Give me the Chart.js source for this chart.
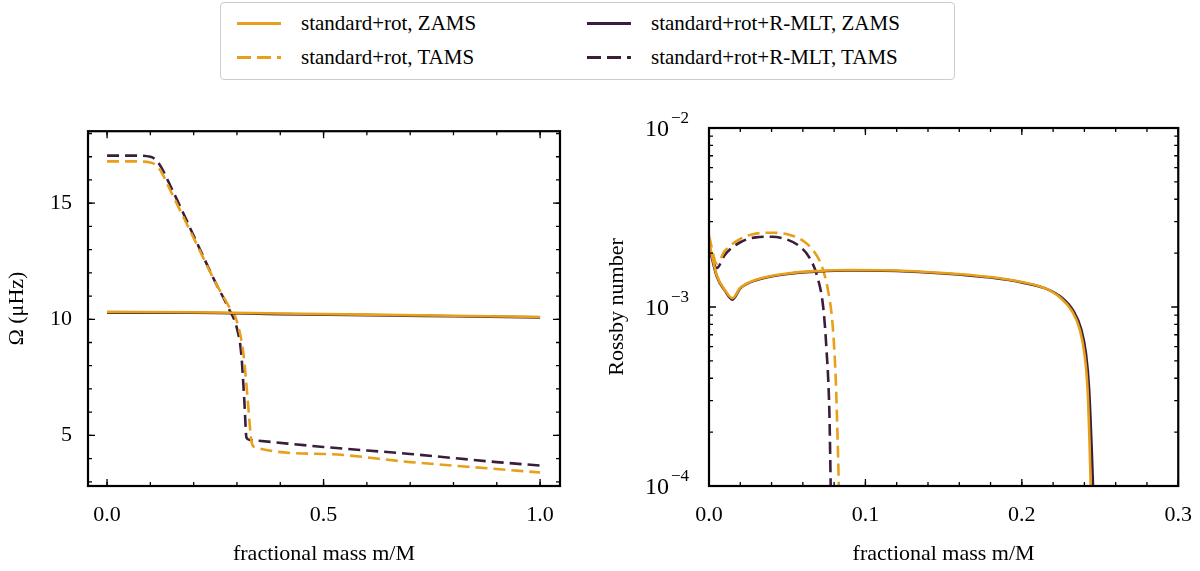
<!DOCTYPE html><html><head><meta charset="utf-8">
<script src="https://cdn.jsdelivr.net/npm/chart.js@4"></script>
<style>
body{margin:0;width:1200px;height:571px;position:relative;background:#fff;font-family:"Liberation Serif",serif;overflow:hidden}
canvas{position:absolute}
#leg{position:absolute;left:220px;top:2px;width:733px;height:76px;border:1px solid #ccc;border-radius:4px;font-size:21px;color:#000}
.it{position:absolute;display:flex;align-items:center}
.ln{width:44px;height:0;border-top:3px solid;margin-right:20px}
.dash{border-top:none;height:3px;background:repeating-linear-gradient(90deg,var(--c) 0 14px,transparent 14px 20px)}
</style></head><body>
<div id="leg">
<div class="it" style="left:16px;top:8px"><div class="ln" style="border-color:#e8a01a"></div>standard+rot, ZAMS</div>
<div class="it" style="left:16px;top:42px"><div class="ln dash" style="--c:#e8a01a"></div>standard+rot, TAMS</div>
<div class="it" style="left:366px;top:8px"><div class="ln" style="border-color:#3b1d3c"></div>standard+rot+R-MLT, ZAMS</div>
<div class="it" style="left:366px;top:42px"><div class="ln dash" style="--c:#3b1d3c"></div>standard+rot+R-MLT, TAMS</div>
</div>
<div style="position:absolute;left:0;top:110px;width:580px;height:461px"><canvas id="c1"></canvas></div>
<div style="position:absolute;left:600px;top:110px;width:600px;height:461px"><canvas id="c2"></canvas></div>
<script>
const ORANGE='#e8a01a', DARK='#3b1d3c';
const omZamsStd=[[0,10.32],[0.2,10.3],[0.4,10.25],[0.6,10.2],[0.8,10.15],[1.0,10.1]];
const omZamsMlt=[[0,10.28],[0.2,10.28],[0.4,10.22],[0.6,10.18],[0.8,10.13],[1.0,10.08]];
const omTamsStd=[[0,16.8],[0.06,16.8],[0.1,16.75],[0.12,16.5],[0.15,15.4],[0.2,13.5],[0.25,11.6],[0.28,10.6],[0.3,9.9],[0.315,8.5],[0.325,6.5],[0.333,4.8],[0.34,4.5],[0.5,4.2],[0.7,3.85],[0.9,3.55],[1.0,3.4]];
const omTamsMlt=[[0,17.05],[0.06,17.05],[0.1,17.0],[0.12,16.7],[0.15,15.6],[0.2,13.6],[0.25,11.6],[0.28,10.5],[0.3,9.6],[0.31,8.5],[0.317,6.5],[0.322,4.9],[0.33,4.8],[0.5,4.5],[0.7,4.2],[0.9,3.85],[1.0,3.7]];
const roZamsStd=[[0,2.3e-3],[0.005,1.5e-3],[0.01,1.25e-3],[0.015,1.12e-3],[0.02,1.28e-3],[0.03,1.42e-3],[0.05,1.54e-3],[0.07,1.59e-3],[0.09,1.61e-3],[0.12,1.6e-3],[0.15,1.55e-3],[0.18,1.47e-3],[0.2,1.38e-3],[0.215,1.27e-3],[0.225,1.12e-3],[0.232,9.5e-4],[0.237,7.5e-4],[0.24,5.5e-4],[0.242,3.5e-4],[0.2435,1.5e-4],[0.244,1e-4]];
const roZamsMlt=[[0,2.2e-3],[0.005,1.48e-3],[0.01,1.24e-3],[0.015,1.1e-3],[0.02,1.27e-3],[0.03,1.41e-3],[0.05,1.53e-3],[0.07,1.58e-3],[0.09,1.6e-3],[0.12,1.59e-3],[0.15,1.54e-3],[0.18,1.46e-3],[0.2,1.37e-3],[0.215,1.27e-3],[0.226,1.12e-3],[0.233,9.5e-4],[0.238,7.5e-4],[0.241,5.5e-4],[0.243,3.5e-4],[0.2448,1.5e-4],[0.2455,1e-4]];
const roTamsStd=[[0,2.5e-3],[0.005,1.75e-3],[0.01,2.05e-3],[0.02,2.4e-3],[0.03,2.57e-3],[0.04,2.6e-3],[0.05,2.55e-3],[0.06,2.35e-3],[0.067,2.05e-3],[0.072,1.7e-3],[0.076,1.25e-3],[0.079,8e-4],[0.081,4e-4],[0.0825,1.5e-4],[0.083,1e-4]];
const roTamsMlt=[[0,2.2e-3],[0.005,1.65e-3],[0.01,1.95e-3],[0.02,2.3e-3],[0.03,2.45e-3],[0.04,2.47e-3],[0.05,2.38e-3],[0.058,2.18e-3],[0.064,1.9e-3],[0.069,1.5e-3],[0.073,1.0e-3],[0.075,6e-4],[0.077,2.5e-4],[0.0778,1e-4]];
const xTicksL=[0,0.5,1.0], yTicksL=[5,10,15], xTicksR=[0,0.1,0.2,0.3];
const F={family:'"Liberation Serif",serif',size:22};
const pts=a=>a.map(p=>({x:p[0],y:p[1]}));
const ds=(d,c,dash)=>({data:pts(d),borderColor:c,borderWidth:2.6,borderDash:dash?[12,6]:[],pointRadius:0,tension:0.3,cubicInterpolationMode:'monotone',fill:false});
const common={responsive:true,maintainAspectRatio:false,animation:false,plugins:{legend:{display:false},tooltip:{enabled:false}}};
const border={display:false};
const frame={id:'frame',afterDraw(c){const a=c.chartArea,x=c.ctx;x.save();x.strokeStyle='#000';x.lineWidth=2.2;x.strokeRect(a.left,a.top,a.right-a.left,a.bottom-a.top);
 // inward ticks
 x.lineWidth=1.3;
 for(const id of ['x','y']){const s=c.scales[id];
  const maj=s.ticks.map(t=>t.value);
  let minor=[];
  if(s.type==='logarithmic'){for(let e=-4;e<-2;e++)for(let k=2;k<10;k++)minor.push(k*Math.pow(10,e));}
  else{const st=(maj[1]-maj[0])/5;for(let v=maj[0]-5*st;v<=maj[maj.length-1]+5*st+1e-9;v+=st)minor.push(v);}
  const draw=(vals,len)=>vals.forEach(v=>{if(v<s.min-1e-12||v>s.max+1e-12)return;const p=s.getPixelForValue(v);x.beginPath();
   if(id==='x'){x.moveTo(p,a.bottom);x.lineTo(p,a.bottom-len);x.moveTo(p,a.top);x.lineTo(p,a.top+len);}
   else{x.moveTo(a.left,p);x.lineTo(a.left+len,p);x.moveTo(a.right,p);x.lineTo(a.right-len,p);}x.stroke();});
  draw(minor,4);draw(maj,7);}
 if(c.scales.y.type==='logarithmic'){const s=c.scales.y;x.fillStyle='#000';x.textBaseline='middle';
  [-4,-3,-2].forEach(e=>{const p=s.getPixelForValue(Math.pow(10,e));x.font='24px "Liberation Serif",serif';x.textAlign='left';
   x.fillText('10',a.left-64,p+2);x.font='17px "Liberation Serif",serif';x.fillText('−'+(-e),a.left-38,p-9);});}
 x.restore();}};
const xs=(min,max,ticks)=>({type:'linear',min,max,border,grid:{display:false},
 afterBuildTicks:s=>{s.ticks=ticks.map(v=>({value:v}))},afterFit:s=>{s.height=85},
 ticks:{color:'#000',font:F,padding:8,callback:v=>v.toFixed(1),maxRotation:0},title:{display:true,text:'fractional mass m/M',font:F,color:'#000',padding:{top:6}}});
new Chart(document.getElementById('c1'),{type:'line',plugins:[frame],data:{datasets:[ds(omZamsStd,ORANGE),ds(omZamsMlt,DARK),ds(omTamsStd,ORANGE,1),ds(omTamsMlt,DARK,1)]},
options:{...common,layout:{padding:{top:18,right:20}},scales:{
x:xs(-0.044,1.046,xTicksL),
y:{min:2.82,max:18.1,border,grid:{display:false},
 afterBuildTicks:s=>{s.ticks=yTicksL.map(v=>({value:v}))},afterFit:s=>{s.width=88},
 ticks:{color:'#000',font:F,padding:8},title:{display:true,text:'Ω (μHz)',font:F,color:'#000'}}}}});
new Chart(document.getElementById('c2'),{type:'line',plugins:[frame],data:{datasets:[ds(roZamsStd,ORANGE),ds(roZamsMlt,DARK),ds(roTamsStd,ORANGE,1),ds(roTamsMlt,DARK,1)]},
options:{...common,layout:{padding:{top:18,right:20}},scales:{
x:xs(0,0.3,xTicksR),
y:{type:'logarithmic',min:1e-4,max:1e-2,border,grid:{display:false},
 afterBuildTicks:s=>{s.ticks=[1e-4,1e-3,1e-2].map(v=>({value:v}))},afterFit:s=>{s.width=109},
 ticks:{color:'#000',font:F,callback:()=>''},title:{display:true,text:'Rossby number',font:F,color:'#000'}}}}});
</script></body></html>
